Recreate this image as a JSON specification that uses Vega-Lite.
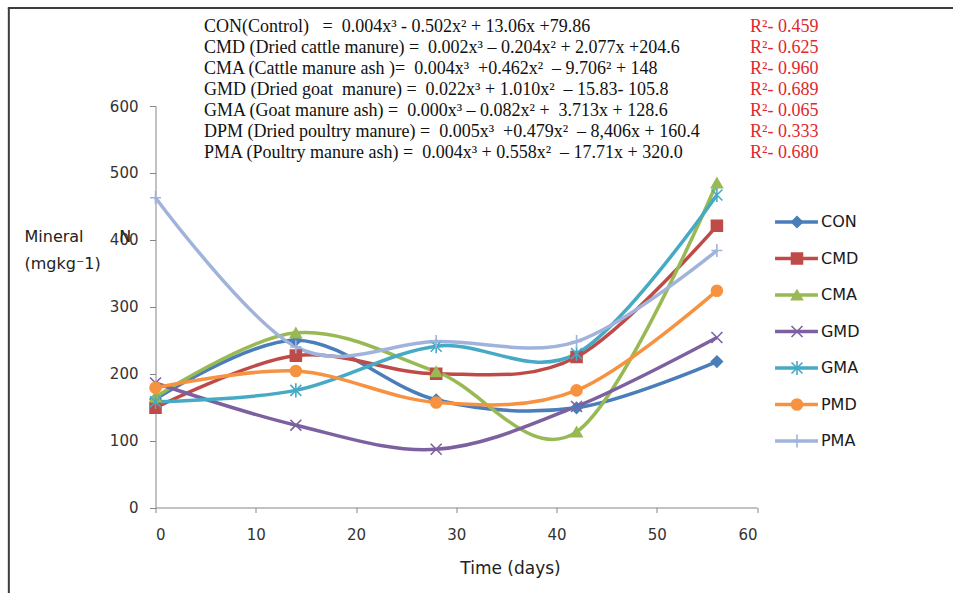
{
  "$schema": "https://vega.github.io/schema/vega-lite/v6.json",
  "width": 601.5,
  "height": 401.5,
  "autosize": {"type": "none"},
  "padding": {"left": 155.5, "top": 106, "right": 197, "bottom": 85.5},
  "background": "white",
  "config": {"view": {"stroke": null}, "font": "DejaVu Sans"},
  "datasets": {
    "series": [
      {"series": "CON", "day": 0, "value": 162}, {"series": "CON", "day": 14, "value": 250}, {"series": "CON", "day": 28, "value": 161}, {"series": "CON", "day": 42, "value": 149}, {"series": "CON", "day": 56, "value": 218},
      {"series": "CMD", "day": 0, "value": 149}, {"series": "CMD", "day": 14, "value": 227}, {"series": "CMD", "day": 28, "value": 200}, {"series": "CMD", "day": 42, "value": 225}, {"series": "CMD", "day": 56, "value": 421},
      {"series": "CMA", "day": 0, "value": 165}, {"series": "CMA", "day": 14, "value": 261}, {"series": "CMA", "day": 28, "value": 203}, {"series": "CMA", "day": 42, "value": 113}, {"series": "CMA", "day": 56, "value": 485},
      {"series": "GMD", "day": 0, "value": 186}, {"series": "GMD", "day": 14, "value": 123}, {"series": "GMD", "day": 28, "value": 87}, {"series": "GMD", "day": 42, "value": 151}, {"series": "GMD", "day": 56, "value": 254},
      {"series": "GMA", "day": 0, "value": 158}, {"series": "GMA", "day": 14, "value": 175}, {"series": "GMA", "day": 28, "value": 241}, {"series": "GMA", "day": 42, "value": 230}, {"series": "GMA", "day": 56, "value": 467},
      {"series": "PMD", "day": 0, "value": 179}, {"series": "PMD", "day": 14, "value": 204}, {"series": "PMD", "day": 28, "value": 157}, {"series": "PMD", "day": 42, "value": 175}, {"series": "PMD", "day": 56, "value": 324},
      {"series": "PMA", "day": 0, "value": 463}, {"series": "PMA", "day": 14, "value": 240}, {"series": "PMA", "day": 28, "value": 248}, {"series": "PMA", "day": 42, "value": 248}, {"series": "PMA", "day": 56, "value": 384}
    ],
    "equations": [
      {"row": 1, "eq": "CON(Control)\u00a0\u00a0\u00a0=\u00a0\u00a00.004x³ - 0.502x² + 13.06x +79.86", "r2": "R²- 0.459"},
      {"row": 2, "eq": "CMD (Dried cattle manure) =\u00a0\u00a00.002x³ – 0.204x² + 2.077x +204.6", "r2": "R²- 0.625"},
      {"row": 3, "eq": "CMA (Cattle manure ash )=\u00a0\u00a00.004x³\u00a0\u00a0+0.462x²\u00a0\u00a0– 9.706² + 148", "r2": "R²- 0.960"},
      {"row": 4, "eq": "GMD (Dried goat\u00a0\u00a0manure) =\u00a0\u00a00.022x³ + 1.010x²\u00a0\u00a0– 15.83- 105.8", "r2": "R²- 0.689"},
      {"row": 5, "eq": "GMA (Goat manure ash) =\u00a0\u00a00.000x³ – 0.082x² +\u00a0\u00a03.713x + 128.6", "r2": "R²- 0.065"},
      {"row": 6, "eq": "DPM (Dried poultry manure) =\u00a0\u00a00.005x³\u00a0\u00a0+0.479x²\u00a0\u00a0– 8,406x + 160.4", "r2": "R²- 0.333"},
      {"row": 7, "eq": "PMA (Poultry manure ash) =\u00a0\u00a00.004x³ + 0.558x²\u00a0\u00a0– 17.71x + 320.0", "r2": "R²- 0.680"}
    ],
    "legend": [
      {"series": "CON"}, {"series": "CMD"}, {"series": "CMA"}, {"series": "GMD"}, {"series": "GMA"}, {"series": "PMD"}, {"series": "PMA"}
    ]
  },
  "layer": [
    {
      "data": {"values": [{}]},
      "encoding": {
        "y": {"datum": 746.4, "type": "quantitative", "scale": {"domain": [0, 600], "zero": false, "nice": false}, "axis": null}
      },
      "layer": [
        {
          "mark": {"type": "rule", "color": "#3c3c3c", "strokeWidth": 2},
          "encoding": {
            "x": {"datum": -14.73, "type": "quantitative", "scale": {"domain": [0, 60], "zero": false, "nice": false}},
            "x2": {"datum": 79.55}
          }
        },
        {
          "mark": {"type": "rule", "color": "#3c3c3c", "strokeWidth": 2},
          "encoding": {
            "x": {"datum": -14.63, "type": "quantitative", "scale": {"domain": [0, 60], "zero": false, "nice": false}},
            "y": {"datum": -130, "type": "quantitative", "scale": {"domain": [0, 600], "zero": false, "nice": false}, "axis": null},
            "y2": {"datum": 746.4}
          }
        }
      ]
    },
    {
      "data": {"name": "series"},
      "layer": [
        {
          "mark": {"type": "line", "interpolate": "cardinal", "strokeWidth": 3.5},
          "encoding": {
            "x": {
              "field": "day", "type": "quantitative",
              "scale": {"domain": [0, 60], "zero": false, "nice": false},
              "axis": {
                "values": [0, 10, 20, 30, 40, 50, 60], "grid": false,
                "domainColor": "#868686", "tickColor": "#868686", "tickSize": 5,
                "labelFont": "DejaVu Sans", "labelFontSize": 15, "labelColor": "#333333", "labelPadding": 15,
                "title": "Time (days)", "titleFont": "DejaVu Sans", "titleFontSize": 17, "titleFontWeight": "normal", "titleColor": "#222222",
                "titleX": 354.5, "titleY": 65.5, "titleAlign": "center", "titleBaseline": "alphabetic"
              }
            },
            "y": {
              "field": "value", "type": "quantitative",
              "scale": {"domain": [0, 600], "zero": false, "nice": false},
              "axis": {
                "values": [0, 100, 200, 300, 400, 500, 600], "grid": false,
                "domainColor": "#868686", "tickColor": "#868686", "tickSize": 6,
                "labelFont": "DejaVu Sans", "labelFontSize": 15, "labelColor": "#333333", "labelPadding": 11.5,
                "title": ["Mineral\u00a0\u00a0\u00a0\u00a0\u00a0\u00a0\u00a0N", "(mgkg⁻1)"],
                "titleFont": "DejaVu Sans", "titleFontSize": 16, "titleFontWeight": "normal", "titleColor": "#222222",
                "titleAngle": 0, "titleAlign": "left", "titleBaseline": "alphabetic",
                "titleX": -131.5, "titleY": 135.5, "titleLineHeight": 27
              }
            },
            "color": {
              "field": "series", "type": "nominal", "legend": null,
              "scale": {"domain": ["CON", "CMD", "CMA", "GMD", "GMA", "PMD", "PMA"], "range": ["#4A7EBB", "#BE4B48", "#98B954", "#7D60A0", "#46AAC5", "#F69240", "#A0B3DA"]}
            }
          }
        },
        {
          "mark": {"type": "point", "filled": true, "opacity": 1, "size": 120, "strokeWidth": 1.6},
          "encoding": {
            "x": {"field": "day", "type": "quantitative", "scale": {"domain": [0, 60], "zero": false, "nice": false}},
            "y": {"field": "value", "type": "quantitative", "scale": {"domain": [0, 600], "zero": false, "nice": false}},
            "color": {"field": "series", "type": "nominal", "legend": null},
            "stroke": {"field": "series", "type": "nominal", "legend": null, "scale": {"domain": ["CON", "CMD", "CMA", "GMD", "GMA", "PMD", "PMA"], "range": ["#4A7EBB", "#BE4B48", "#98B954", "#7D60A0", "#46AAC5", "#F69240", "#A0B3DA"]}},
            "shape": {
              "field": "series", "type": "nominal", "legend": null,
              "scale": {"domain": ["CON", "CMD", "CMA", "GMD", "GMA", "PMD", "PMA"], "range": ["diamond", "square", "triangle-up", "M-1,-1L1,1M-1,1L1,-1", "M-1,-1L1,1M-1,1L1,-1M0,-1.3L0,1.3", "circle", "M0,-1.2L0,1.2M-1,0L1,0"]}
            }
          }
        }
      ]
    },
    {
      "data": {"name": "equations"},
      "encoding": {
        "y": {"field": "row", "type": "quantitative", "scale": {"domain": [1, 7], "range": [-79, 47], "zero": false, "nice": false}, "axis": null}
      },
      "layer": [
        {
          "mark": {"type": "text", "align": "left", "baseline": "middle", "font": "Liberation Serif", "fontSize": 18, "color": "#111111"},
          "encoding": {
            "x": {"datum": 4.84, "type": "quantitative", "scale": {"domain": [0, 60], "zero": false, "nice": false}},
            "text": {"field": "eq"}
          }
        },
        {
          "mark": {"type": "text", "align": "left", "baseline": "middle", "font": "Liberation Serif", "fontSize": 18, "color": "#E0282E"},
          "encoding": {
            "x": {"datum": 59.3, "type": "quantitative", "scale": {"domain": [0, 60], "zero": false, "nice": false}},
            "text": {"field": "r2"}
          }
        }
      ]
    },
    {
      "data": {"name": "legend"},
      "encoding": {
        "y": {"field": "series", "type": "nominal", "sort": null, "scale": {"type": "point", "domain": ["CON", "CMD", "CMA", "GMD", "GMA", "PMD", "PMA"], "range": [116, 335], "padding": 0}, "axis": null}
      },
      "layer": [
        {
          "mark": {"type": "rule", "strokeWidth": 3.5},
          "encoding": {
            "x": {"datum": 61.8, "type": "quantitative", "scale": {"domain": [0, 60], "zero": false, "nice": false}},
            "x2": {"datum": 66.08},
            "color": {"field": "series", "type": "nominal", "legend": null}
          }
        },
        {
          "mark": {"type": "point", "filled": true, "opacity": 1, "size": 120, "strokeWidth": 1.6},
          "encoding": {
            "x": {"datum": 63.99, "type": "quantitative", "scale": {"domain": [0, 60], "zero": false, "nice": false}},
            "color": {"field": "series", "type": "nominal", "legend": null},
            "stroke": {"field": "series", "type": "nominal", "legend": null},
            "shape": {"field": "series", "type": "nominal", "legend": null}
          }
        },
        {
          "mark": {"type": "text", "align": "left", "baseline": "middle", "font": "DejaVu Sans", "fontSize": 16, "color": "#1a1a1a"},
          "encoding": {
            "x": {"datum": 66.38, "type": "quantitative", "scale": {"domain": [0, 60], "zero": false, "nice": false}},
            "text": {"field": "series"}
          }
        }
      ]
    }
  ],
  "resolve": {"scale": {"y": "independent"}}
}
